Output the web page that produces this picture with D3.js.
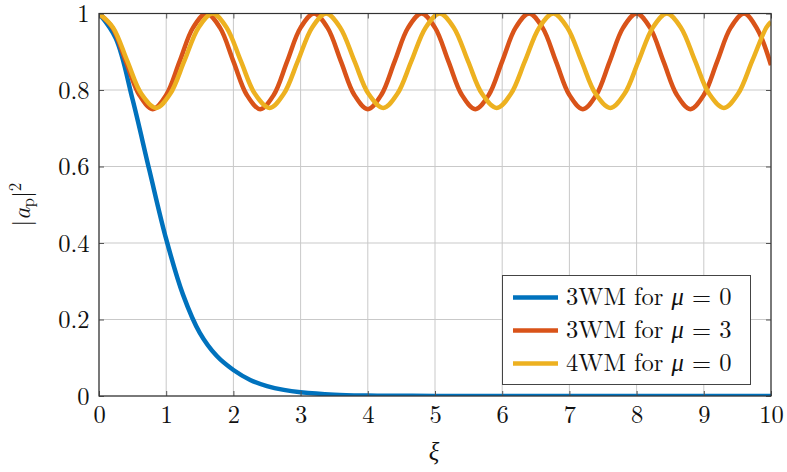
<!DOCTYPE html>
<html>
<head>
<meta charset="utf-8">
<script src="https://cdn.jsdelivr.net/npm/d3@7"></script>
<style>
  html, body { margin: 0; padding: 0; background: #fff; }
  svg { display: block; }
</style>
</head>
<body>
<svg id="chart" width="787" height="472"></svg>
<script>
// Pump power |a_p|^2 along the normalised length ξ

// 3WM, μ = 0 : monotonic depletion
const blueX = [0, 0.25, 0.5, 0.75, 1, 1.25, 1.5, 1.75, 2, 2.25, 2.5, 2.75, 3, 3.5, 4, 4.5, 5, 6, 7, 8, 9, 10];
const blueY = [1, 0.935, 0.775, 0.59, 0.41, 0.265, 0.165, 0.105, 0.068, 0.042, 0.026, 0.016, 0.01, 0.0036, 0.0013, 0.0005, 0.0002, 0, 0, 0, 0, 0];

// 3WM, μ = 3 : oscillation between 1 and 0.75
const redX = [0, 0.2, 0.4, 0.6, 0.8, 1.0, 1.2, 1.4, 1.6, 1.8, 2.0, 2.2, 2.4, 2.6, 2.8, 3.0, 3.2,
              3.4, 3.6, 3.8, 4.0, 4.2, 4.4, 4.6, 4.8, 5.0, 5.2, 5.4, 5.6, 5.8, 6.0, 6.2, 6.4,
              6.6, 6.8, 7.0, 7.2, 7.4, 7.6, 7.8, 8.0, 8.2, 8.4, 8.6, 8.8, 9.0, 9.2, 9.4, 9.6, 9.8, 10];
const redY = [1, 0.963, 0.875, 0.787, 0.75, 0.787, 0.875, 0.963, 1, 0.963, 0.875, 0.787, 0.75, 0.787, 0.875, 0.963, 1,
              0.963, 0.875, 0.787, 0.75, 0.787, 0.875, 0.963, 1, 0.963, 0.875, 0.787, 0.75, 0.787, 0.875, 0.963, 1,
              0.963, 0.875, 0.787, 0.75, 0.787, 0.875, 0.963, 1, 0.963, 0.875, 0.787, 0.75, 0.787, 0.875, 0.963, 1, 0.958, 0.865];

// 4WM, μ = 0 : oscillation with a slightly longer period
const yellowX = [0, 0.21, 0.42, 0.63, 0.85, 1.06, 1.27, 1.48, 1.69, 1.90, 2.11, 2.32, 2.54, 2.75, 2.96, 3.17, 3.38,
                 3.59, 3.80, 4.01, 4.23, 4.44, 4.65, 4.86, 5.07, 5.28, 5.49, 5.70, 5.92, 6.13, 6.34, 6.55, 6.76,
                 6.97, 7.18, 7.39, 7.61, 7.82, 8.03, 8.24, 8.45, 8.66, 8.87, 9.08, 9.30, 9.51, 9.72, 9.93, 10];
const yellowY = [1, 0.963, 0.876, 0.79, 0.753, 0.79, 0.876, 0.963, 1, 0.963, 0.876, 0.79, 0.753, 0.79, 0.876, 0.963, 1,
                 0.963, 0.876, 0.79, 0.753, 0.79, 0.876, 0.963, 1, 0.963, 0.876, 0.79, 0.753, 0.79, 0.876, 0.963, 1,
                 0.963, 0.876, 0.79, 0.753, 0.79, 0.876, 0.963, 1, 0.963, 0.876, 0.79, 0.753, 0.79, 0.876, 0.963, 0.978];

const xTicks = [0, 1, 2, 3, 4, 5, 6, 7, 8, 9, 10];
const yTicks = [0, 0.2, 0.4, 0.6, 0.8, 1];
const yTickLabels = ["0", "0.2", "0.4", "0.6", "0.8", "1"];

const seriesNames = [
  { lead: "3WM for ", mu: "0" },
  { lead: "3WM for ", mu: "3" },
  { lead: "4WM for ", mu: "0" }
];
const seriesColors = ["#0072BD", "#D95319", "#EDB120"];

const series = [
  blueX.map((x, i) => [x, blueY[i]]),
  redX.map((x, i) => [x, redY[i]]),
  yellowX.map((x, i) => [x, yellowY[i]])
];

const FONT = '"Latin Modern Roman", "Liberation Serif", serif';
const FS = "24.5px";

const svg = d3.select("#chart");
const plot = { left: 99, right: 771, top: 13.5, bottom: 396 };

const x = d3.scaleLinear().domain([0, 10]).range([plot.left, plot.right]);
const y = d3.scaleLinear().domain([0, 1]).range([plot.bottom, plot.top]);

// grid
const grid = svg.append("g").attr("stroke", "#c9c9c9").attr("stroke-width", 1);
grid.selectAll(".gx").data(xTicks).join("line")
  .attr("x1", d => x(d)).attr("x2", d => x(d))
  .attr("y1", plot.top).attr("y2", plot.bottom);
grid.selectAll(".gy").data(yTicks).join("line")
  .attr("y1", d => y(d)).attr("y2", d => y(d))
  .attr("x1", plot.left).attr("x2", plot.right);

// curves, clipped to the axis box
svg.append("defs").append("clipPath").attr("id", "clip")
  .append("rect")
  .attr("x", plot.left).attr("y", plot.top)
  .attr("width", plot.right - plot.left).attr("height", plot.bottom - plot.top);

const line = d3.line().x(d => x(d[0])).y(d => y(d[1])).curve(d3.curveCatmullRom.alpha(0.5));

svg.append("g").attr("clip-path", "url(#clip)")
  .selectAll("path").data(series).join("path")
  .attr("d", line)
  .attr("fill", "none")
  .attr("stroke", (d, i) => seriesColors[i])
  .attr("stroke-width", 4.5)
  .attr("stroke-linejoin", "round");

// axes: ticks pointing inward on all four sides
const tickLen = 5;
const axBottom = svg.append("g").attr("transform", `translate(0,${plot.bottom})`)
  .call(d3.axisBottom(x).tickValues(xTicks).tickSize(-tickLen).tickPadding(27).tickFormat(d3.format("d")));
const axTop = svg.append("g").attr("transform", `translate(0,${plot.top})`)
  .call(d3.axisTop(x).tickValues(xTicks).tickSize(-tickLen).tickFormat(""));
const axLeft = svg.append("g").attr("transform", `translate(${plot.left},0)`)
  .call(d3.axisLeft(y).tickValues(yTicks).tickSize(-tickLen).tickPadding(9.5)
    .tickFormat((d, i) => yTickLabels[i]));
const axRight = svg.append("g").attr("transform", `translate(${plot.right},0)`)
  .call(d3.axisRight(y).tickValues(yTicks).tickSize(-tickLen).tickFormat(""));

[axBottom, axTop, axLeft, axRight].forEach(a => {
  a.attr("font-family", null).attr("font-size", null);
  a.select(".domain").remove();
  a.selectAll(".tick line").attr("stroke", "#555").attr("stroke-width", 1);
  a.selectAll(".tick text")
    .style("font-family", FONT)
    .style("font-size", FS).attr("fill", "#111");
});
axBottom.selectAll(".tick text").attr("dy", "0");
axLeft.selectAll(".tick text").attr("dy", "0.33em");

// frame
svg.append("rect")
  .attr("x", plot.left).attr("y", plot.top)
  .attr("width", plot.right - plot.left).attr("height", plot.bottom - plot.top)
  .attr("fill", "none").attr("stroke", "#333").attr("stroke-width", 1.2);

// axis labels
svg.append("text")
  .attr("x", x(5) - 1).attr("y", 460)
  .attr("text-anchor", "middle")
  .style("font-family", FONT)
  .style("font-size", FS).style("font-style", "italic")
  .attr("fill", "#111")
  .text("ξ");

const yl = svg.append("text")
  .attr("transform", `translate(29.5,${(plot.top + plot.bottom) / 2}) rotate(-90)`)
  .attr("text-anchor", "middle")
  .style("font-family", FONT)
  .style("font-size", FS)
  .attr("fill", "#111");
yl.append("tspan").text("|");
yl.append("tspan").style("font-style", "italic").text("a");
yl.append("tspan").attr("dy", 4).style("font-size", "17px").text("p");
yl.append("tspan").attr("dy", -4).text("|");
yl.append("tspan").attr("dy", -9).style("font-size", "17px").text("2");

// legend
const lg = svg.append("g");
lg.append("rect")
  .attr("x", 502.5).attr("y", 275.5).attr("width", 248).attr("height", 109)
  .attr("fill", "#fff").attr("stroke", "#444").attr("stroke-width", 1);
const rowY = [297.5, 330.5, 363.5];
seriesNames.forEach((s, i) => {
  lg.append("line")
    .attr("x1", 513).attr("x2", 558).attr("y1", rowY[i]).attr("y2", rowY[i])
    .attr("stroke", seriesColors[i]).attr("stroke-width", 4.5);
  const t = lg.append("text").attr("x", 566).attr("y", rowY[i]).attr("dy", "0.3em")
    .style("font-family", FONT)
    .style("font-size", FS)
    .attr("fill", "#111");
  t.append("tspan").text(s.lead);
  t.append("tspan").style("font-style", "italic").text("μ");
  t.append("tspan").text(" = " + s.mu);
});
</script>
</body>
</html>
